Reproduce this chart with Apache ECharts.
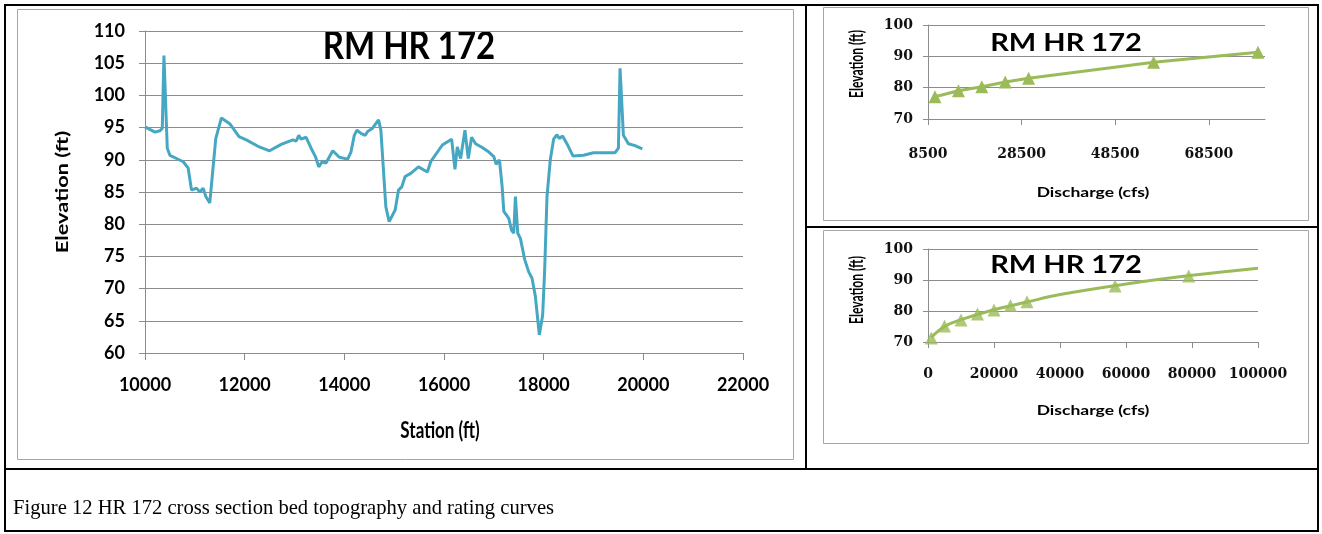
<!DOCTYPE html>
<html>
<head>
<meta charset="utf-8">
<title>HR 172 cross section and rating curves</title>
<script src="https://cdn.jsdelivr.net/npm/echarts@6/dist/echarts.min.js"></script>
<style>
  html, body { margin: 0; padding: 0; background: #ffffff; }
  #chart { width: 1322px; height: 534px; }
</style>
</head>
<body>
<div id="chart"></div>
<script>
// Bed topography of cross section RM HR 172 (station ft, elevation ft)
const stations = [
  10000, 10200, 10300, 10347, 10380, 10420, 10447, 10500, 10633, 10767,
  10867, 10933, 11033, 11100, 11167, 11220, 11300, 11420, 11533, 11700,
  11887, 12033, 12267, 12500, 12733, 12967, 13033, 13087, 13133, 13233,
  13333, 13420, 13487, 13553, 13633, 13767, 13900, 14067, 14133, 14200,
  14253, 14333, 14420, 14467, 14567, 14687, 14733, 14833, 14900, 15020,
  15087, 15153, 15220, 15333, 15487, 15667, 15733, 15967, 16153, 16220,
  16267, 16333, 16420, 16487, 16553, 16633, 16767, 16900, 17000, 17047,
  17113, 17167, 17200, 17300, 17353, 17400, 17433, 17480, 17533, 17620,
  17700, 17767, 17833, 17913, 17980, 18020, 18067, 18133, 18200, 18267,
  18313, 18380, 18467, 18587, 18800, 19000, 19233, 19433, 19500, 19533,
  19567, 19600, 19700, 19833, 19980
];
const elevations = [
  95.1, 94.3, 94.5, 94.9, 106.2, 106.0, 91.8, 90.7, 90.2, 89.7,
  88.7, 85.3, 85.6, 85.0, 85.6, 84.3, 83.3, 93.3, 96.5, 95.6,
  93.6, 93.1, 92.1, 91.4, 92.4, 93.1, 92.9, 93.8, 93.2, 93.5,
  91.8, 90.5, 88.9, 89.7, 89.5, 91.4, 90.4, 90.1, 91.2, 93.8,
  94.6, 94.1, 93.8, 94.4, 94.9, 96.2, 94.6, 82.7, 80.4, 82.2,
  85.3, 85.8, 87.4, 87.9, 88.9, 88.1, 89.7, 92.3, 93.2, 88.5,
  92.0, 90.2, 94.6, 90.2, 93.5, 92.5, 91.9, 91.2, 90.5, 89.3,
  90.0, 85.8, 82.0, 80.9, 79.1, 78.6, 84.3, 78.6, 77.8, 74.5,
  72.6, 71.6, 68.8, 62.8, 65.9, 72.9, 84.3, 90.0, 93.2, 93.9,
  93.3, 93.7, 92.5, 90.6, 90.7, 91.1, 91.1, 91.1, 91.8, 104.2,
  103.9, 93.8, 92.5, 92.2, 91.7
];

// Rating curve points (discharge cfs, water surface elevation ft)
const ratingQ = [10000, 15000, 20000, 25000, 30000, 56700, 79000];
const ratingZ = [77.1, 79.0, 80.3, 81.8, 83.0, 88.1, 91.3];

// Full-range rating points including the low flows
const fullQ = [1000, 5000, 10000, 15000, 20000, 25000, 30000, 56700, 79000];
const fullZ = [71.3, 75.2, 77.1, 79.0, 80.3, 81.8, 83.0, 88.1, 91.3];

// Fitted rating curve extended to 100000 cfs
const trendQ = [1000, 5000, 10000, 20000, 30000, 40000, 60000, 80000, 100000];
const trendZ = [71.5, 75.0, 77.2, 80.4, 82.9, 85.3, 88.7, 91.5, 93.8];

const pairs = (xs, ys) => xs.map((x, i) => [x, ys[i]]);
const plain = (v) => String(v);

const GRID_GRAY = '#8c8c8c';
const BLUE = '#46a7c3';
const GREEN = '#9bbb59';
const SANS = 'Lato, "Open Sans", sans-serif';
const SERIF = '"DejaVu Serif", serif';

function valueAxis(opts) {
  return Object.assign({
    type: 'value',
    axisLine: { show: true, lineStyle: { color: GRID_GRAY, width: 1 } },
    axisTick: { show: true, length: 6, lineStyle: { color: GRID_GRAY } },
    splitLine: { show: false }
  }, opts);
}

const leftLabel = { color: '#000', fontFamily: SANS, fontSize: 18, fontWeight: 'bold', formatter: plain };
const rightLabel = { color: '#111', fontFamily: SERIF, fontSize: 14, fontWeight: 'bold', formatter: plain };

// Text placed at its centre, with optional rotation and stretch
function label(text, x, y, font, extra) {
  return Object.assign({
    type: 'text', x: x, y: y,
    style: { text: text, x: 0, y: 0, textAlign: 'center', textVerticalAlign: 'middle', font: font, fill: '#000' }
  }, extra || {});
}

const chart = echarts.init(document.getElementById('chart'), null, { renderer: 'canvas' });

const option = {
  animation: false,
  backgroundColor: '#ffffff',
  grid: [
    { left: 145, top: 31, width: 598, height: 322 },
    { left: 928, top: 25, width: 337, height: 94 },
    { left: 928, top: 249, width: 330, height: 93 }
  ],
  xAxis: [
    valueAxis({ gridIndex: 0, min: 10000, max: 22000, interval: 2000,
      axisTick: { show: true, length: 7, lineStyle: { color: GRID_GRAY } },
      axisLabel: Object.assign({ margin: 23 }, leftLabel) }),
    valueAxis({ gridIndex: 1, min: 8500, max: 80500, interval: 20000,
      axisLabel: Object.assign({ margin: 28, showMaxLabel: false }, rightLabel) }),
    valueAxis({ gridIndex: 2, min: 0, max: 100000, interval: 20000,
      axisLabel: Object.assign({ margin: 25 }, rightLabel) })
  ],
  yAxis: [
    valueAxis({ gridIndex: 0, min: 60, max: 110, interval: 5,
      splitLine: { show: true, lineStyle: { color: GRID_GRAY, width: 1 } },
      axisLabel: Object.assign({ margin: 20 }, leftLabel) }),
    valueAxis({ gridIndex: 1, min: 70, max: 100, interval: 10,
      splitLine: { show: true, lineStyle: { color: GRID_GRAY, width: 1 } },
      axisTick: { show: true, length: 5, lineStyle: { color: GRID_GRAY } },
      axisLabel: Object.assign({ margin: 15 }, rightLabel) }),
    valueAxis({ gridIndex: 2, min: 70, max: 100, interval: 10,
      splitLine: { show: true, lineStyle: { color: GRID_GRAY, width: 1 } },
      axisTick: { show: true, length: 5, lineStyle: { color: GRID_GRAY } },
      axisLabel: Object.assign({ margin: 15 }, rightLabel) })
  ],
  series: [
    {
      name: 'Bed elevation', type: 'line', xAxisIndex: 0, yAxisIndex: 0,
      data: pairs(stations, elevations), showSymbol: false,
      lineStyle: { color: BLUE, width: 3 }, z: 5
    },
    {
      name: 'Rating', type: 'line', xAxisIndex: 1, yAxisIndex: 1,
      data: pairs(ratingQ, ratingZ), symbol: 'triangle', symbolSize: 13,
      itemStyle: { color: GREEN }, lineStyle: { color: GREEN, width: 3 }, z: 5
    },
    {
      name: 'Rating fit', type: 'line', xAxisIndex: 2, yAxisIndex: 2,
      data: pairs(trendQ, trendZ), smooth: 0.4, showSymbol: false,
      lineStyle: { color: GREEN, width: 3 }, z: 4
    },
    {
      name: 'Rating points', type: 'scatter', xAxisIndex: 2, yAxisIndex: 2,
      data: pairs(fullQ, fullZ), symbol: 'triangle', symbolSize: 13,
      itemStyle: { color: GREEN }, z: 5
    }
  ],
  graphic: [
    // table frame
    { type: 'rect', shape: { x: 5, y: 5, width: 1313, height: 526 },
      style: { fill: null, stroke: '#000', lineWidth: 2 }, silent: true },
    { type: 'line', shape: { x1: 806, y1: 5, x2: 806, y2: 469 }, style: { stroke: '#000', lineWidth: 2 } },
    { type: 'line', shape: { x1: 806, y1: 227, x2: 1318, y2: 227 }, style: { stroke: '#000', lineWidth: 2 } },
    { type: 'line', shape: { x1: 5, y1: 469, x2: 1318, y2: 469 }, style: { stroke: '#000', lineWidth: 2 } },
    // chart area borders
    { type: 'rect', shape: { x: 17.5, y: 9.5, width: 776, height: 450 },
      style: { fill: null, stroke: '#a6a6a6', lineWidth: 1 }, z: -1 },
    { type: 'rect', shape: { x: 823.5, y: 7.5, width: 485, height: 213 },
      style: { fill: null, stroke: '#a6a6a6', lineWidth: 1 }, z: -1 },
    { type: 'rect', shape: { x: 823.5, y: 230.5, width: 485, height: 213 },
      style: { fill: null, stroke: '#a6a6a6', lineWidth: 1 }, z: -1 },
    // chart titles
    label('RM HR 172', 409, 47, 'bold 33px ' + SANS, { scaleY: 1.15 }),
    label('RM HR 172', 1066, 43, 'bold 25px ' + SANS, { scaleX: 1.16 }),
    label('RM HR 172', 1066, 265, 'bold 25px ' + SANS, { scaleX: 1.16 }),
    // axis titles
    label('Elevation (ft)', 63, 192, 'bold 17px ' + SANS, { rotation: Math.PI / 2, scaleX: 1.28 }),
    label('Station (ft)', 440, 431, 'bold 17px ' + SANS, { scaleY: 1.3 }),
    label('Elevation (ft)', 857, 64, 'bold 13px ' + SANS, { rotation: Math.PI / 2, scaleX: 0.93, scaleY: 1.4 }),
    label('Discharge (cfs)', 1093, 192, 'bold 14px ' + SANS, { scaleX: 1.25 }),
    label('Elevation (ft)', 857, 290, 'bold 13px ' + SANS, { rotation: Math.PI / 2, scaleX: 0.93, scaleY: 1.4 }),
    label('Discharge (cfs)', 1093, 410, 'bold 14px ' + SANS, { scaleX: 1.25 }),
    // caption
    { type: 'text', style: { text: 'Figure 12 HR 172 cross section bed topography and rating curves',
      x: 13, y: 498, textAlign: 'left', textVerticalAlign: 'alphabetic',
      font: '20.6px "Liberation Serif", "Times New Roman", serif', fill: '#000' } }
  ]
};

chart.setOption(option);
</script>
</body>
</html>
